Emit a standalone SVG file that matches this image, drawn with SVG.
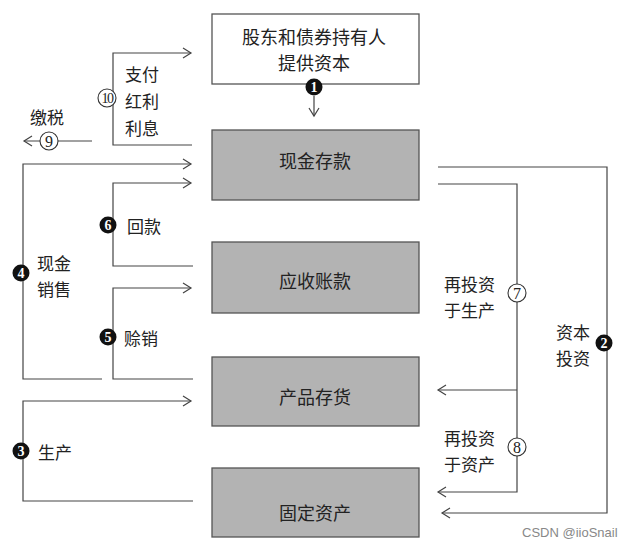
<svg xmlns="http://www.w3.org/2000/svg" width="634" height="551" viewBox="0 0 634 551">
<style>
.box{fill:#b3b3b3;stroke:#555;stroke-width:1.3}
.wbox{fill:#fff;stroke:#555;stroke-width:1.3}
.bt{font-family:"Noto Sans CJK SC","Noto Sans",sans-serif;font-size:18px;fill:#222;text-anchor:middle;dominant-baseline:central}
.lt{font-family:"Noto Sans CJK SC","Noto Sans",sans-serif;font-size:17px;fill:#222;dominant-baseline:central}
.ln{fill:none;stroke:#444;stroke-width:1.2}
.fc{fill:#111}
.oc{fill:#fff;stroke:#333;stroke-width:1.1}
.fn{font-family:"Liberation Serif",serif;font-size:14px;font-weight:bold;fill:#fff;text-anchor:middle;dominant-baseline:central}
.on{font-family:"Liberation Serif",serif;font-size:16px;fill:#222;text-anchor:middle;dominant-baseline:central}
</style>
<defs>
<marker id="ah" markerUnits="userSpaceOnUse" markerWidth="12" markerHeight="12" refX="10" refY="6" orient="auto">
<path d="M2,1 L10,6 L2,11" fill="none" stroke="#444" stroke-width="1.2"/>
</marker>
</defs>
<rect width="634" height="551" fill="#fff"/>

<g id="n-top">
<rect class="wbox" x="212" y="14" width="207" height="70"/>
<text class="bt" x="314" y="36">股东和债券持有人</text>
<text class="bt" x="314" y="62">提供资本</text>
</g>
<g id="n-cash">
<rect class="box" x="212" y="130" width="207" height="70"/>
<text class="bt" x="315" y="160">现金存款</text>
</g>
<g id="n-ar">
<rect class="box" x="212" y="242" width="207" height="71"/>
<text class="bt" x="315" y="280">应收账款</text>
</g>
<g id="n-inv">
<rect class="box" x="212" y="357" width="207" height="69"/>
<text class="bt" x="315" y="396">产品存货</text>
</g>
<g id="n-fa">
<rect class="box" x="212" y="468" width="207" height="69"/>
<text class="bt" x="315" y="512">固定资产</text>
</g>

<g id="connectors">
<path class="ln" d="M314,96 L314,116" marker-end="url(#ah)"/>
<path class="ln" d="M192,145 L113,145 L113,53 L191,53" marker-end="url(#ah)"/>
<path class="ln" d="M92,141 L24,141" marker-end="url(#ah)"/>
<path class="ln" d="M102,379 L23,379 L23,164 L191,164" marker-end="url(#ah)"/>
<path class="ln" d="M193,266 L113,266 L113,183 L191,183" marker-end="url(#ah)"/>
<path class="ln" d="M193,379 L113,379 L113,288 L191,288" marker-end="url(#ah)"/>
<path class="ln" d="M193,501 L23,501 L23,401 L191,401" marker-end="url(#ah)"/>
<path class="ln" d="M438,184 L517,184 L517,492 L438,492" marker-end="url(#ah)"/>
<path class="ln" d="M517,390 L438,390" marker-end="url(#ah)"/>
<path class="ln" d="M438,167 L607,167 L607,513 L442,513" marker-end="url(#ah)"/>
</g>

<g id="labels">
<circle class="fc" cx="314" cy="87" r="8.5"/><text class="fn" x="314" y="87.5">1</text>
<circle class="oc" cx="107" cy="98" r="9"/><text class="on" x="107" y="98.5" style="font-size:14px;letter-spacing:-1.5px">10</text>
<text class="lt" x="125" y="73">支付</text>
<text class="lt" x="125" y="100">红利</text>
<text class="lt" x="125" y="127">利息</text>
<text class="lt" x="30" y="116">缴税</text>
<circle class="oc" cx="49" cy="141" r="9"/><text class="on" x="49" y="141.5">9</text>
<circle class="fc" cx="21" cy="273" r="8.5"/><text class="fn" x="21" y="273.5">4</text>
<text class="lt" x="37" y="262">现金</text>
<text class="lt" x="37" y="288">销售</text>
<circle class="fc" cx="108" cy="225" r="8.5"/><text class="fn" x="108" y="225.5">6</text>
<text class="lt" x="127" y="225">回款</text>
<circle class="fc" cx="108" cy="337" r="8.5"/><text class="fn" x="108" y="337.5">5</text>
<text class="lt" x="124" y="337">赊销</text>
<circle class="fc" cx="21" cy="451" r="8.5"/><text class="fn" x="21" y="451.5">3</text>
<text class="lt" x="38" y="451">生产</text>
<circle class="oc" cx="517" cy="293" r="9"/><text class="on" x="517" y="293.5">7</text>
<text class="lt" x="444" y="283">再投资</text>
<text class="lt" x="444" y="309">于生产</text>
<circle class="oc" cx="517" cy="447" r="9"/><text class="on" x="517" y="447.5">8</text>
<text class="lt" x="444" y="437">再投资</text>
<text class="lt" x="444" y="463">于资产</text>
<circle class="fc" cx="604" cy="343" r="8.5"/><text class="fn" x="604" y="343.5">2</text>
<text class="lt" x="556" y="331">资本</text>
<text class="lt" x="556" y="357">投资</text>
<text x="522" y="537" style="font-family:'Liberation Sans',sans-serif;font-size:13px;fill:#888">CSDN @iioSnail</text>
</g>
</svg>
